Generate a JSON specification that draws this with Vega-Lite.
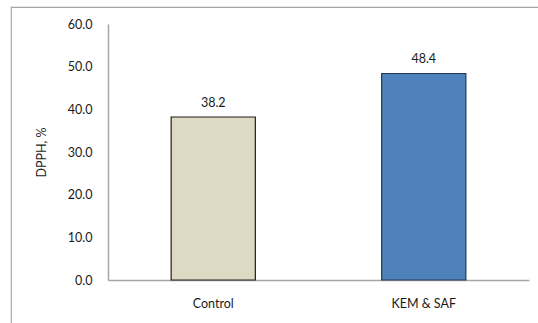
{
  "$schema": "https://vega.github.io/schema/vega-lite/v6.json",
  "width": 527,
  "height": 316,
  "autosize": "none",
  "padding": {"left": 11, "top": 7, "right": 0, "bottom": 0},
  "background": "white",
  "config": {
    "font": "Lato",
    "view": {"stroke": "#A6A6A6", "strokeWidth": 1.2, "strokeDash": [527, 843, 316, 0]},
    "axis": {"labelFont": "Lato", "titleFont": "Lato", "labelColor": "#1a1a1a", "titleColor": "#1a1a1a"}
  },
  "data": {
    "values": [
      {"group": "Control", "dpph": 38.2},
      {"group": "KEM & SAF", "dpph": 48.4}
    ]
  },
  "encoding": {
    "x": {
      "field": "group",
      "type": "nominal",
      "sort": null,
      "scale": {"range": [97, 518], "paddingInner": 0, "paddingOuter": 0},
      "axis": {
        "title": null,
        "labelAngle": 0,
        "labelFontSize": 12.5,
        "labelPadding": 17,
        "ticks": false,
        "domainColor": "#A6A6A6",
        "domainWidth": 1.5,
        "offset": -43
      }
    },
    "y": {
      "field": "dpph",
      "type": "quantitative",
      "scale": {"domain": [0, 60], "range": [273, 17], "nice": false},
      "axis": {
        "title": "DPPH, %",
        "values": [0, 10, 20, 30, 40, 50, 60],
        "format": ".1f",
        "grid": false,
        "ticks": false,
        "labelFontSize": 12.5,
        "labelPadding": 16,
        "titleFontSize": 12.5,
        "titleFontWeight": "normal",
        "titlePadding": 19,
        "domainColor": "#A6A6A6",
        "domainWidth": 1.5,
        "offset": -97
      }
    }
  },
  "layer": [
    {
      "mark": {"type": "bar", "width": {"band": 0.4}, "strokeWidth": 1.2},
      "encoding": {
        "fill": {
          "field": "group",
          "type": "nominal",
          "scale": {"domain": ["Control", "KEM & SAF"], "range": ["#DDD9C3", "#4F81BD"]},
          "legend": null
        },
        "stroke": {
          "field": "group",
          "type": "nominal",
          "scale": {"domain": ["Control", "KEM & SAF"], "range": ["#1f1f1f", "#26384f"]},
          "legend": null
        }
      }
    },
    {
      "mark": {"type": "text", "dy": -14, "baseline": "middle", "fontSize": 12.5, "font": "Lato", "color": "#1a1a1a"},
      "encoding": {
        "text": {"field": "dpph", "type": "quantitative", "format": ".1f"}
      }
    }
  ]
}
